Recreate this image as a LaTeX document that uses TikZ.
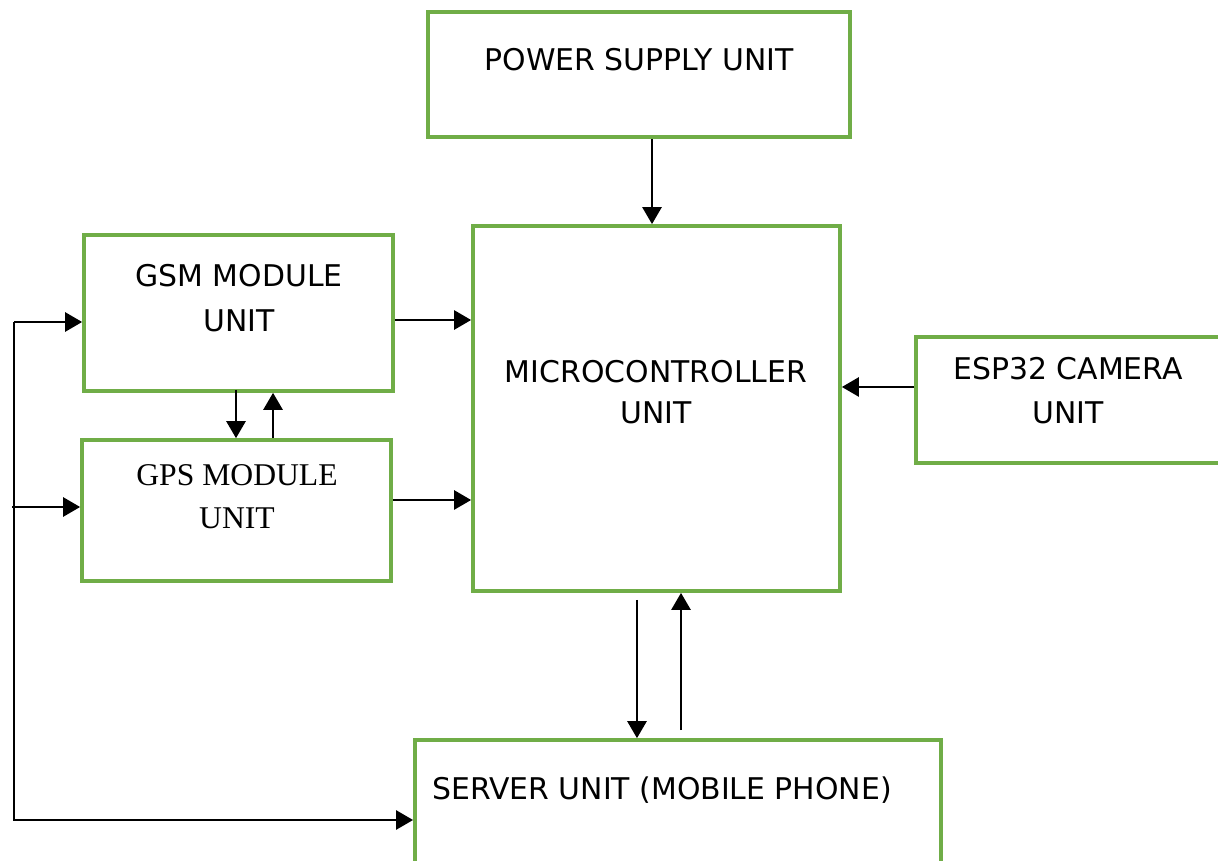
\documentclass[tikz,border=0pt]{standalone}
\usepackage{fontspec}
\setmainfont{DejaVu Sans}
\newfontfamily\gpsfont{Liberation Serif}
\usetikzlibrary{arrows.meta}

\definecolor{unitgreen}{RGB}{112,173,71}

\tikzset{
	unitbox/.style={draw=unitgreen, line width=1pt, inner sep=0pt},
	unittext/.style={align=center, inner sep=0pt, font=\fontsize{8.5}{#1}\selectfont},
	unittext/.default=12.8,
	link/.style={line width=0.75pt, ->},
}

\begin{document}
\begin{tikzpicture}[x=0.01cm, y=-0.01cm, >={Triangle[length=0.17cm, width=0.19cm]}]
	\useasboundingbox (0,0) rectangle (1218,861);
	\clip (0,0) rectangle (1218,861);

	\node[unitbox, minimum width=4.22cm, minimum height=1.25cm] (psu) at (639,74.5) {};
	\node[unitbox, minimum width=3.67cm, minimum height=3.65cm] (mcu) at (656.5,408.5) {};
	\node[unitbox, minimum width=3.09cm, minimum height=1.56cm] (gsm) at (238.5,313) {};
	\node[unitbox, minimum width=3.09cm, minimum height=1.41cm] (gps) at (236.5,510.5) {};
	\node[unitbox, minimum width=3.30cm, minimum height=1.26cm] (cam) at (1081,400) {};
	\node[unitbox, minimum width=5.26cm, minimum height=1.60cm] (srv) at (678,820) {};

	\node[unittext] (psutext) at (639,60) {POWER SUPPLY UNIT};
	\node[unittext=11.6] (mcutext) at (656,392.5) {MICROCONTROLLER\\UNIT};
	\node[unittext] (gsmtext) at (239,298.5) {GSM MODULE\\UNIT};
	\node[align=center, inner sep=0pt, font=\gpsfont\fontsize{9}{12.2}\selectfont] (gpstext) at (237,496.5) {GPS MODULE\\UNIT};
	\node[unittext=12.5] (camtext) at (1068,391) {ESP32 CAMERA\\UNIT};
	\node[unittext] (srvtext) at (662,790) {SERVER UNIT (MOBILE PHONE)};

	\coordinate (bus) at (14,322);
	\coordinate (tap) at (12,507);

	\draw[link] ([xshift=0.13cm]psu.south) -- ([xshift=0.13cm]psu.south |- mcu.north);
	\draw[link] ([yshift=-0.07cm]gsm.east) -- ([yshift=-0.07cm]gsm.east -| mcu.west);
	\draw[link] ([yshift=0.105cm]gps.east) -- ([yshift=0.105cm]gps.east -| mcu.west);
	\draw[link] ([yshift=0.13cm]cam.west) -- ([yshift=0.13cm]cam.west -| mcu.east);

	\draw[link] ([xshift=-0.025cm, yshift=0.03cm]gsm.south) -- ([xshift=-0.025cm]gsm.south |- gps.north);
	\draw[link] ([xshift=0.365cm]gps.north) -- ([xshift=0.365cm]gps.north |- gsm.south);

	\draw[link] ([xshift=-0.195cm, yshift=-0.07cm]mcu.south) -- ([xshift=-0.195cm]mcu.south |- srv.north);
	\draw[link] ([xshift=0.03cm, yshift=0.08cm]srv.north) -- ([xshift=0.03cm]srv.north |- mcu.south);

	\draw[link] (bus) -- (bus -| gsm.west);
	\draw[link] (tap) -- (tap -| gps.west);
	\draw[link] (bus) |- (srv.west);
\end{tikzpicture}
\end{document}
